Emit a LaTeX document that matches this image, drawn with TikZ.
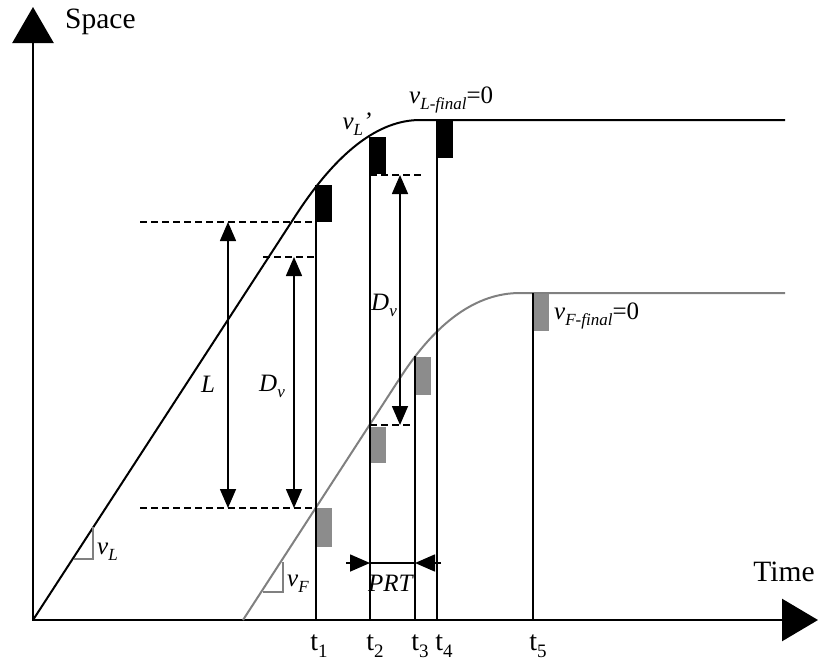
\documentclass[tikz,border=0pt]{standalone}
\usepackage{fontspec}
\setmainfont{Liberation Serif}
\usetikzlibrary{arrows.meta}
\definecolor{fgray}{gray}{0.5}
\definecolor{bgray}{gray}{0.55}
\newcommand\lsub[1]{\raisebox{-6pt}{\fontsize{17}{17}\selectfont #1}}
\newcommand\tsub[1]{\raisebox{-7pt}{\fontsize{19}{19}\selectfont #1}}
\begin{document}
\begin{tikzpicture}[x=1pt,y=-1pt,
  axisline/.style={line width=2.6pt,line join=miter,
    {Triangle[length=36pt,width=41pt]}-{Triangle[length=36pt,width=42pt]}},
  leader/.style={line width=2pt,black},
  follower/.style={line width=2pt,fgray},
  tline/.style={line width=2pt,black},
  dashline/.style={line width=2pt,dash pattern=on 7pt off 4pt},
  dimarrow/.style={line width=1.6pt,{Triangle[length=19pt,width=16pt]}-{Triangle[length=19pt,width=16pt]}},
  prtarrow/.style={line width=1.6pt,-{Triangle[length=20pt,width=17pt]}},
  blackblock/.style={fill=black,draw=none},
  grayblock/.style={fill=bgray,draw=none},
  slope/.style={line width=1.3pt,fgray},
  lbl/.style={inner sep=0pt,font=\fontsize{25}{28}\selectfont},
  axlbl/.style={inner sep=0pt,font=\fontsize{29.5}{32}\selectfont},
  tlbl/.style={inner sep=0pt,font=\fontsize{28}{30}\selectfont}]
\useasboundingbox (0,0) rectangle (820,664);
% coordinates
\coordinate (O) at (33,620);
\coordinate (Ytip) at (33,7);
\coordinate (Xtip) at (818,620);
% axes
\draw[axisline] (Ytip) -- (O) -- (Xtip);
\node[axlbl,anchor=west] (space) at (65,22) {Space};
\node[axlbl] (time) at (784,572) {Time};
% leader trajectory
\draw[leader] (O) -- (296,215) .. controls (337.3,151.7) and (378.7,120) .. (420,120) -- (785,120);
% follower trajectory
\coordinate (F0) at (243,620);
\draw[follower] (F0) -- (400,378) .. controls (436.7,321.3) and (476.7,293) .. (520,293) -- (785,293);
% vertical time lines
\coordinate (t1b) at (316,620); \coordinate (t1t) at (316,185);
\coordinate (t2b) at (370,620); \coordinate (t2t) at (370,137);
\coordinate (t3b) at (415,620); \coordinate (t3t) at (415,356);
\coordinate (t4b) at (437,620); \coordinate (t4t) at (437,120);
\coordinate (t5b) at (533,620); \coordinate (t5t) at (533,293);
\draw[tline] (t1b) -- (t1t);
\draw[tline] (t2b) -- (t2t);
\draw[tline] (t3b) -- (t3t);
\draw[tline] (t4b) -- (t4t);
\draw[tline] (t5b) -- (t5t);
% vehicles
\fill[blackblock] (316,185) rectangle (332,222);
\fill[blackblock] (370,137) rectangle (386,174);
\fill[blackblock] (437,120) rectangle (453,158);
\fill[grayblock] (317,508) rectangle (332,547);
\fill[grayblock] (371,427) rectangle (386,463);
\fill[grayblock] (416,357) rectangle (431,395);
\fill[grayblock] (534,294) rectangle (549,331);
% dashed reference lines
\coordinate (Ltop) at (228,222); \coordinate (Lbot) at (228,508);
\coordinate (D1top) at (294,257); \coordinate (D1bot) at (294,508);
\coordinate (D2top) at (400,175); \coordinate (D2bot) at (400,425);
\draw[dashline] (140,222) -- (316,222);
\draw[dashline] (263,257) -- (316,257);
\draw[dashline] (140,508) -- (316,508);
\draw[dashline] (370,175) -- (423,175);
\draw[dashline] (370,425) -- (415,425);
% dimension arrows
\draw[dimarrow] (Ltop) -- (Lbot);
\draw[dimarrow] (D1top) -- (D1bot);
\draw[dimarrow] (D2top) -- (D2bot);
\node[lbl] (Llbl) at (208,384) {\textit{L}};
\node[lbl] (D1lbl) at (272,386) {\textit{D}\lsub{\textit{v}}};
\node[lbl] (D2lbl) at (384,305) {\textit{D}\lsub{\textit{v}}};
% PRT
\coordinate (P0) at (346,563); \coordinate (P1) at (441,563);
\coordinate (Pa) at (370,563); \coordinate (Pb) at (415,563);
\draw[line width=1.6pt] (Pa) -- (Pb);
\draw[prtarrow] (P0) -- (Pa);
\draw[prtarrow] (P1) -- (Pb);
\node[lbl] (prt) at (391,583) {\textit{PRT}};
% slope triangles
\draw[slope] (74,559) -- (93,559) -- (93,527);
\draw[slope] (263,592) -- (283,592) -- (283,562);
\node[lbl,anchor=west] (vL) at (97,552) {\textit{v}\lsub{\textit{L}}};
\node[lbl,anchor=west] (vF) at (287,584) {\textit{v}\lsub{\textit{F}}};
% speed labels
\node[lbl] (vLp) at (357,124) {\textit{v}\lsub{\textit{L}}\textit{'}};
\node[lbl,anchor=west] (vLf) at (409,100) {\textit{v}\lsub{\textit{L-final}}=0};
\node[lbl,anchor=west] (vFf) at (554,316) {\textit{v}\lsub{\textit{F-final}}=0};
% time labels
\node[tlbl] (l1) at (319,646) {t\tsub{1}};
\node[tlbl] (l2) at (375,646) {t\tsub{2}};
\node[tlbl] (l3) at (420,646) {t\tsub{3}};
\node[tlbl] (l4) at (444,646) {t\tsub{4}};
\node[tlbl] (l5) at (538,646) {t\tsub{5}};
\end{tikzpicture}
\end{document}
